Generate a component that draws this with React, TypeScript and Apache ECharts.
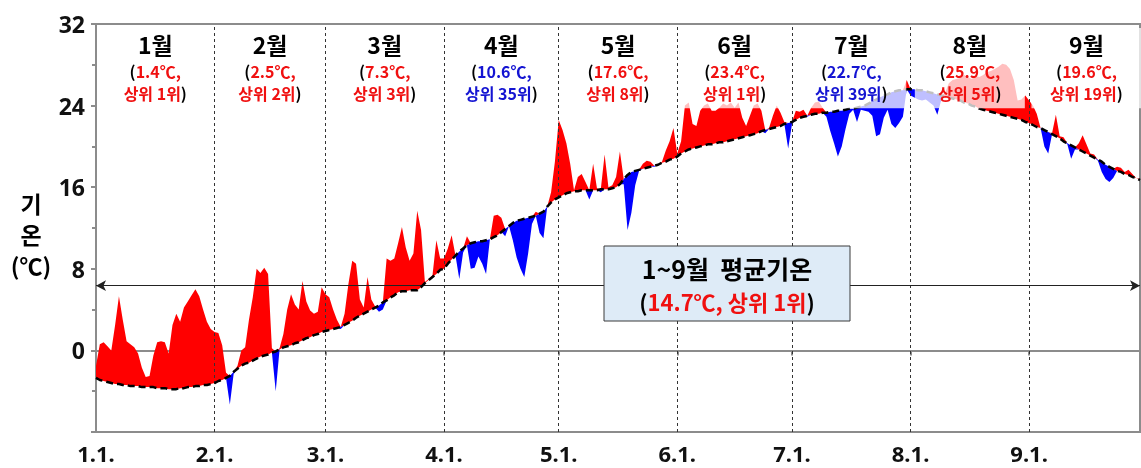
import React, { useEffect, useRef } from "react";
import * as echarts from "echarts";

// ---- data ----
const MONTH_DAYS = [31, 29, 31, 30, 31, 30, 31, 31, 30];
const MONTH_NAMES = ["1월", "2월", "3월", "4월", "5월", "6월", "7월", "8월", "9월"];
const MONTH_MEAN = ["1.4℃,", "2.5℃,", "7.3℃,", "10.6℃,", "17.6℃,", "23.4℃,", "22.7℃,", "25.9℃,", "19.6℃,"];
const MONTH_RANK = ["상위 1위", "상위 2위", "상위 3위", "상위 35위", "상위 8위", "상위 1위", "상위 39위", "상위 5위", "상위 19위"];
const MONTH_HOT = [true, true, true, false, true, true, false, true, true];

const Y_MIN = -8;
const Y_MAX = 32;
const Y_STEP = 8;
const ARROW_LEVEL = 6.35;

// climatological normal (black dashed)
const NORMAL_JAN = [-2.7, -2.9, -3.0, -3.1, -3.2, -3.3, -3.3, -3.4, -3.4, -3.5, -3.5, -3.5, -3.6, -3.6, -3.6, -3.6, -3.7, -3.7, -3.7, -3.8, -3.8, -3.8, -3.7, -3.7, -3.6, -3.6, -3.5, -3.5, -3.4, -3.4, -3.3];
const NORMAL_FEB = [-3.2, -3.0, -2.9, -2.7, -2.5, -2.1, -1.8, -1.5, -1.3, -1.2, -1.0, -0.8, -0.6, -0.5, -0.4, -0.2, -0.1, 0.1, 0.3, 0.4, 0.5, 0.7, 0.8, 1.0, 1.2, 1.3, 1.5, 1.6, 1.8];
const NORMAL_MAR = [1.9, 2.0, 2.1, 2.2, 2.3, 2.5, 2.7, 2.9, 3.2, 3.4, 3.6, 3.8, 4.0, 4.2, 4.4, 4.7, 4.9, 5.2, 5.4, 5.7, 5.8, 5.8, 5.9, 5.9, 5.9, 6.2, 6.6, 6.9, 7.2, 7.5, 7.9];
const NORMAL_APR = [8.0, 8.5, 8.9, 9.3, 9.7, 10.0, 10.3, 10.5, 10.6, 10.7, 10.7, 10.8, 10.9, 11.1, 11.3, 11.6, 11.9, 12.2, 12.5, 12.7, 12.8, 12.9, 13.0, 13.1, 13.2, 13.4, 13.6, 14.1, 14.5, 14.8];
const NORMAL_MAY = [15.0, 15.2, 15.4, 15.5, 15.6, 15.6, 15.7, 15.7, 15.7, 15.7, 15.7, 15.8, 15.8, 15.8, 15.9, 16.0, 16.3, 16.8, 17.2, 17.5, 17.6, 17.7, 17.8, 17.9, 18.0, 18.1, 18.2, 18.4, 18.5, 18.7, 18.8];
const NORMAL_JUN = [19.0, 19.3, 19.5, 19.7, 19.8, 19.9, 20.0, 20.1, 20.2, 20.2, 20.3, 20.4, 20.4, 20.5, 20.6, 20.7, 20.8, 20.9, 21.0, 21.1, 21.2, 21.3, 21.5, 21.6, 21.7, 21.8, 21.9, 22.0, 22.2, 22.3];
const NORMAL_JUL = [22.4, 22.6, 22.8, 22.9, 23.0, 23.1, 23.2, 23.2, 23.3, 23.3, 23.4, 23.4, 23.5, 23.5, 23.6, 23.7, 23.7, 23.8, 23.9, 24.0, 24.2, 24.4, 24.6, 24.8, 25.0, 25.1, 25.3, 25.4, 25.5, 25.5, 25.6];
const NORMAL_AUG = [25.6, 25.6, 25.5, 25.5, 25.4, 25.3, 25.2, 25.1, 25.0, 24.9, 24.8, 24.7, 24.6, 24.5, 24.3, 24.2, 24.0, 23.9, 23.7, 23.6, 23.5, 23.4, 23.3, 23.2, 23.1, 23.0, 22.9, 22.8, 22.7, 22.6, 22.4];
const NORMAL_SEP = [22.3, 22.1, 21.9, 21.8, 21.6, 21.4, 21.2, 21.0, 20.8, 20.5, 20.3, 20.1, 19.9, 19.7, 19.5, 19.3, 19.1, 18.9, 18.7, 18.5, 18.2, 18.0, 17.8, 17.6, 17.5, 17.3, 17.2, 17.0, 16.9, 16.7];

// observed daily mean temperature
const TEMP_JAN = [-1.5, 0.6, 0.8, 0.4, 0.0, 2.5, 5.3, 3.0, 0.9, 0.6, 0.3, -0.3, -1.7, -2.6, -2.5, -0.5, 0.8, 0.9, 0.8, -0.3, 2.5, 3.6, 2.8, 4.2, 4.8, 5.4, 6.0, 5.3, 4.0, 2.8, 2.1];
const TEMP_FEB = [1.8, 1.7, 0.5, -2.2, -5.3, -2.3, -1.5, 0.0, 0.3, 3.0, 5.2, 8.0, 7.6, 8.1, 7.5, 0.2, -4.0, 0.2, 1.6, 4.0, 5.5, 4.5, 4.0, 6.8, 4.8, 3.9, 3.6, 3.8, 6.2];
const TEMP_MAR = [5.5, 5.2, 4.0, 3.0, 2.1, 3.6, 6.5, 8.8, 8.5, 5.0, 4.2, 7.2, 5.0, 4.3, 3.8, 4.0, 9.0, 8.8, 9.0, 10.5, 12.1, 10.1, 8.8, 9.5, 13.7, 11.8, 6.7, 7.0, 7.4, 10.8, 9.0];
const TEMP_APR = [9.0, 10.0, 11.3, 9.3, 7.0, 9.6, 11.2, 8.0, 8.1, 9.2, 8.5, 7.5, 10.9, 13.2, 13.3, 13.0, 11.2, 12.2, 10.8, 9.1, 8.0, 7.2, 9.5, 12.4, 13.6, 11.5, 11.0, 14.1, 15.5, 18.5];
const TEMP_MAY = [22.6, 21.6, 20.3, 18.3, 15.7, 17.0, 17.3, 16.5, 14.8, 18.3, 15.9, 15.5, 19.2, 16.0, 16.2, 17.0, 19.5, 16.3, 11.8, 13.5, 16.2, 17.6, 18.3, 18.6, 18.5, 18.0, 18.2, 18.5, 19.6, 20.5, 21.8];
const TEMP_JUN = [19.3, 20.5, 24.0, 24.3, 22.2, 22.0, 23.5, 24.0, 24.2, 23.5, 23.5, 23.8, 24.2, 24.0, 24.3, 23.8, 24.3, 22.8, 22.0, 23.0, 24.0, 24.2, 23.5, 21.3, 21.8, 23.0, 24.0, 23.3, 22.4, 19.8];
const TEMP_JUL = [22.2, 23.5, 23.4, 23.6, 22.9, 23.8, 24.3, 24.4, 23.8, 22.9, 21.5, 20.3, 19.0, 20.0, 21.7, 23.2, 23.6, 22.4, 23.6, 23.5, 23.4, 23.0, 21.0, 21.2, 22.8, 23.6, 22.2, 21.8, 22.3, 22.9, 26.5];
const TEMP_AUG = [25.0, 24.8, 24.6, 24.5, 24.6, 24.3, 24.0, 23.1, 24.5, 25.2, 26.2, 26.5, 26.6, 26.7, 27.0, 26.8, 26.6, 26.9, 26.8, 27.0, 27.3, 27.4, 27.6, 27.8, 28.1, 28.0, 27.6, 26.5, 24.5, 24.6, 25.0];
const TEMP_SEP = [24.5, 24.0, 23.2, 21.8, 20.0, 19.3, 21.3, 23.1, 21.0, 20.9, 20.2, 18.8, 19.7, 20.3, 21.1, 20.2, 19.3, 19.2, 18.6, 17.5, 16.8, 16.5, 16.9, 18.0, 17.9, 17.5, 17.7, 17.3, 16.9, 16.8];

const NORMAL = [NORMAL_JAN, NORMAL_FEB, NORMAL_MAR, NORMAL_APR, NORMAL_MAY, NORMAL_JUN, NORMAL_JUL, NORMAL_AUG, NORMAL_SEP].flat();
const TEMP = [TEMP_JAN, TEMP_FEB, TEMP_MAR, TEMP_APR, TEMP_MAY, TEMP_JUN, TEMP_JUL, TEMP_AUG, TEMP_SEP].flat();

// categories: "1.1.", "1.2.", ...
const CATEGORIES: string[] = [];
const MONTH_START: number[] = [];
MONTH_DAYS.forEach((n, m) => {
  MONTH_START.push(CATEGORIES.length);
  for (let d = 1; d <= n; d++) CATEGORIES.push(`${m + 1}.${d}.`);
});
const START_SET = new Set(MONTH_START);

const ABOVE = TEMP.map((t, i) => Math.max(Math.round((t - NORMAL[i]) * 100) / 100, 0));
const BELOW = TEMP.map((t, i) => Math.min(Math.round((t - NORMAL[i]) * 100) / 100, 0));

const NUM_FONT = "'Noto Sans', 'Noto Sans CJK KR', sans-serif";
const KR_FONT = "'Noto Sans CJK KR', 'Noto Sans', sans-serif";
const RED = "#ff0000";
const BLUE = "#0000ff";
const RED_TXT = "#f01010";
const BLUE_TXT = "#1414d2";
const AXIS_GRAY = "#8c8c8c";

export default function App() {
  const ref = useRef<HTMLDivElement>(null);
  useEffect(() => {
    const chart = echarts.init(ref.current!, null, { renderer: "svg" });
    const option: any = {
      animation: false,
      grid: {
        left: 96,
        right: 1,
        top: 24,
        bottom: 36,
        show: true,
        borderColor: AXIS_GRAY,
        borderWidth: 2,
      },
      xAxis: {
        type: "category",
        data: CATEGORIES,
        boundaryGap: false,
        axisLine: { lineStyle: { color: AXIS_GRAY, width: 2 } },
        axisTick: {
          interval: (i: number) => START_SET.has(i),
          length: 5,
          lineStyle: { color: AXIS_GRAY, width: 2 },
        },
        axisLabel: {
          interval: (i: number) => START_SET.has(i),
          fontSize: 22,
          fontWeight: "bold",
          color: "#111",
          fontFamily: NUM_FONT,
          margin: 10,
        },
        splitLine: { show: false },
      },
      yAxis: {
        type: "value",
        min: Y_MIN,
        max: Y_MAX,
        interval: Y_STEP,
        axisLine: { show: true, lineStyle: { color: AXIS_GRAY, width: 2 } },
        axisTick: { show: true, length: 5, lineStyle: { color: AXIS_GRAY, width: 2 } },
        minorTick: { show: true, splitNumber: 2, length: 4, lineStyle: { color: AXIS_GRAY, width: 2 } },
        splitLine: { show: false },
        axisLabel: {
          fontSize: 23,
          fontWeight: "bold",
          color: "#111",
          fontFamily: NUM_FONT,
          margin: 11,
          formatter: (v: number) => (v === Y_MIN ? "" : String(v)),
        },
      },
      series: [
        {
          name: "baseAbove",
          type: "line",
          stack: "above",
          stackStrategy: "all",
          data: NORMAL,
          symbol: "none",
          lineStyle: { opacity: 0 },
          silent: true,
          z: 2,
        },
        {
          name: "above",
          type: "line",
          stack: "above",
          stackStrategy: "all",
          data: ABOVE,
          symbol: "none",
          lineStyle: { opacity: 0, width: 0 },
          areaStyle: { color: RED, opacity: 1 },
          silent: true,
          z: 2,
        },
        {
          name: "baseBelow",
          type: "line",
          stack: "below",
          stackStrategy: "all",
          data: NORMAL,
          symbol: "none",
          lineStyle: { opacity: 0 },
          silent: true,
          z: 2,
        },
        {
          name: "below",
          type: "line",
          stack: "below",
          stackStrategy: "all",
          data: BELOW,
          symbol: "none",
          lineStyle: { opacity: 0, width: 0 },
          areaStyle: { color: BLUE, opacity: 1 },
          silent: true,
          z: 2,
        },
        {
          name: "normal",
          type: "line",
          data: NORMAL,
          symbol: "none",
          lineStyle: { color: "#000", width: 2.5, type: [7, 4] },
          silent: true,
          z: 5,
        },
        {
          name: "monthLines",
          type: "line",
          data: NORMAL,
          symbol: "none",
          lineStyle: { opacity: 0 },
          silent: true,
          z: 6,
          markLine: {
            silent: true,
            symbol: "none",
            label: { show: false },
            lineStyle: { color: "#333", width: 1, type: [3, 3] },
            data: MONTH_START.slice(1).map((i) => ({ xAxis: i })),
          },
        },
        {
          name: "arrow",
          type: "line",
          data: NORMAL,
          symbol: "none",
          lineStyle: { opacity: 0 },
          silent: true,
          z: 6,
          markLine: {
            silent: true,
            symbol: ["arrow", "arrow"],
            symbolSize: [8, 10],
            label: { show: false },
            lineStyle: { color: "#222", width: 1, type: "solid" },
            data: [{ yAxis: ARROW_LEVEL }],
          },
        },
      ],
    };
    chart.setOption(option);

    const px = (i: number) => chart.convertToPixel({ xAxisIndex: 0 }, i) as number;
    const py = (v: number) => chart.convertToPixel({ yAxisIndex: 0 }, v) as number;
    const x0 = px(0);
    const step = px(1) - px(0);

    const graphics: any[] = [];
    const boxBottom = py(23.75);
    MONTH_DAYS.forEach((n, m) => {
      const start = MONTH_START[m];
      const cx = x0 + (start + n / 2) * step;
      const c = MONTH_HOT[m] ? RED_TXT : BLUE_TXT;
      graphics.push({
        type: "rect",
        z: 50,
        silent: true,
        shape: { x: cx - 55, y: 28, width: 110, height: boxBottom - 28 },
        style: { fill: "rgba(255,255,255,0.75)" },
      });
      graphics.push({
        type: "text",
        z: 60,
        silent: true,
        x: cx,
        y: 44,
        style: {
          text: MONTH_NAMES[m],
          fill: "#000",
          fontSize: 23,
          fontWeight: "bold",
          fontFamily: KR_FONT,
          align: "center",
          verticalAlign: "middle",
        },
      });
      graphics.push({
        type: "text",
        z: 60,
        silent: true,
        x: cx,
        y: 71,
        style: {
          text: `{p|(}{c|${MONTH_MEAN[m]}}`,
          align: "center",
          verticalAlign: "middle",
          rich: {
            p: { fill: "#000", fontSize: 16, fontWeight: "bold", fontFamily: KR_FONT },
            c: { fill: c, fontSize: 16, fontWeight: "bold", fontFamily: KR_FONT },
          },
        },
      });
      graphics.push({
        type: "text",
        z: 60,
        silent: true,
        x: cx,
        y: 93,
        style: {
          text: `{c|${MONTH_RANK[m]}}{p|)}`,
          align: "center",
          verticalAlign: "middle",
          rich: {
            p: { fill: "#000", fontSize: 16, fontWeight: "bold", fontFamily: KR_FONT },
            c: { fill: c, fontSize: 16, fontWeight: "bold", fontFamily: KR_FONT },
          },
        },
      });
    });

    // y axis title
    graphics.push({
      type: "text",
      z: 60,
      silent: true,
      x: 31,
      y: 234,
      style: {
        text: "기\n온\n(℃)",
        fill: "#000",
        fontSize: 23,
        fontWeight: "bold",
        fontFamily: KR_FONT,
        lineHeight: 31,
        align: "center",
        verticalAlign: "middle",
      },
    });

    // summary box
    graphics.push({
      type: "rect",
      z: 70,
      silent: true,
      shape: { x: 604, y: 246, width: 246, height: 75 },
      style: { fill: "#deebf7", stroke: "#3a3a3a", lineWidth: 1 },
    });
    graphics.push({
      type: "text",
      z: 71,
      silent: true,
      x: 727,
      y: 268,
      style: {
        text: "1~9월  평균기온",
        fill: "#000",
        fontSize: 25,
        fontWeight: "bold",
        fontFamily: KR_FONT,
        align: "center",
        verticalAlign: "middle",
      },
    });
    graphics.push({
      type: "text",
      z: 71,
      silent: true,
      x: 727,
      y: 301,
      style: {
        text: "{p|(}{c|14.7℃, 상위 1위}{p|)}",
        align: "center",
        verticalAlign: "middle",
        rich: {
          p: { fill: "#000", fontSize: 22, fontWeight: "bold", fontFamily: KR_FONT },
          c: { fill: RED_TXT, fontSize: 22, fontWeight: "bold", fontFamily: KR_FONT },
        },
      },
    });

    chart.setOption({ graphic: graphics });
    return () => chart.dispose();
  }, []);
  return (
    <div
      ref={ref}
      style={{ position: "fixed", left: 0, top: 0, width: 1141, height: 468 }}
    />
  );
}
